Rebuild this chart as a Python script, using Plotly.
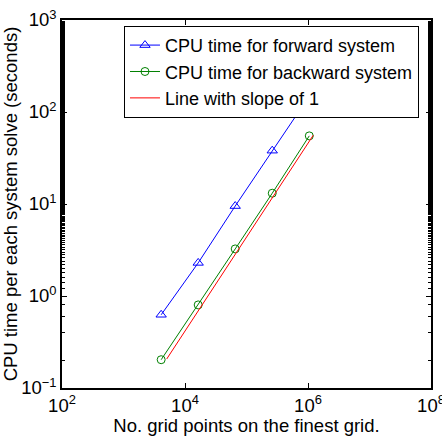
import plotly.graph_objects as go

grid_points = [4096, 16384, 65536, 262144, 1048576]
cpu_forward = [0.625, 2.29, 9.5, 38, 149]
cpu_backward = [0.203, 0.80, 3.25, 13.1, 55]
slope_x = [5040, 1.22e6]
slope_y = [0.2065, 56]

x_tickvals = [1e2, 1e4, 1e6, 1e8]
x_ticktext = ["10<sup>2</sup>", "10<sup>4</sup>", "10<sup>6</sup>", "10<sup>8</sup>"]
y_tickvals = [1e-1, 1e0, 1e1, 1e2, 1e3]
y_ticktext = ["10<sup>\u22121</sup>", "10<sup>0</sup>", "10<sup>1</sup>", "10<sup>2</sup>", "10<sup>3</sup>"]

FONT = "Liberation Sans, Arial, sans-serif"
FS = 18.5

fig = go.Figure()
fig.add_trace(go.Scatter(
    x=grid_points, y=cpu_forward, mode="lines+markers",
    name="CPU time for forward system",
    line=dict(color="#0000ff", width=1),
    marker=dict(symbol="triangle-up-open", size=9, color="#0000ff", line=dict(width=1)),
))
fig.add_trace(go.Scatter(
    x=grid_points, y=cpu_backward, mode="lines+markers",
    name="CPU time for backward system",
    line=dict(color="#008000", width=1),
    marker=dict(symbol="circle-open", size=8, color="#008000", line=dict(width=1)),
))
fig.add_trace(go.Scatter(
    x=slope_x, y=slope_y, mode="lines",
    name="Line with slope of 1",
    line=dict(color="#ff0000", width=1),
))

axis_common = dict(
    showline=True, linecolor="black", linewidth=1.5, mirror="ticks",
    ticks="inside", ticklen=5, tickcolor="black", tickwidth=1,
    showgrid=False, zeroline=False, automargin=False,
    ticklabeloverflow="allow",
    tickfont=dict(family=FONT, size=FS, color="black"),
)

fig.update_xaxes(
    type="log", range=[2, 8], tickmode="array",
    tickvals=x_tickvals, ticktext=x_ticktext,
    title=dict(text="No. grid points on the finest grid.", font=dict(family=FONT, size=FS, color="black"), standoff=0),
    **axis_common,
)
fig.update_yaxes(
    type="log", range=[-1, 3], tickmode="array",
    tickvals=y_tickvals, ticktext=y_ticktext,
    minor=dict(ticks="inside", ticklen=3, tickcolor="black", tickwidth=1, showgrid=False),
    title=dict(text="CPU time per each system solve (seconds)", font=dict(family=FONT, size=FS, color="black"), standoff=2),
    **axis_common,
)

fig.update_layout(
    width=442, height=436,
    margin=dict(l=62, r=11, t=20, b=48),
    paper_bgcolor="white", plot_bgcolor="white",
    font=dict(family=FONT, size=FS, color="black"),
    legend=dict(
        x=0.168, y=0.984, xanchor="left", yanchor="top",
        bgcolor="white", bordercolor="black", borderwidth=1,
        font=dict(family=FONT, size=18, color="black"),
        itemwidth=30, tracegroupgap=0,
    ),
)

fig.write_html("out.html")
